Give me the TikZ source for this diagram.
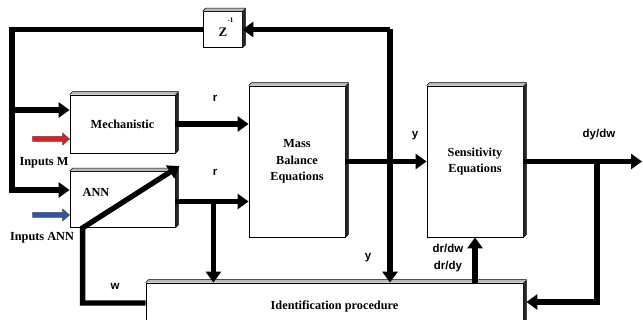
\documentclass[tikz,border=0pt]{standalone}
\usepackage{fontspec}
\setmainfont{Liberation Serif}
\newfontfamily\lsans{Liberation Sans}
\usetikzlibrary{arrows.meta,calc}
\definecolor{inred}{RGB}{225,30,30}
\definecolor{inblue}{RGB}{45,85,170}
\newcommand\depthbox[1]{%
  \fill[gray!55] (#1.north west) -- ++(3,-3) -- ($(#1.north east)+(3,-3)$) -- (#1.north east) -- cycle;
  \fill[gray!30!black] (#1.north east) -- ++(3,-3) -- ($(#1.south east)+(3,-3)$) -- (#1.south east) -- cycle;
  \draw[line width=0.6pt] (#1.north west) -- ++(3,-3) -- ($(#1.north east)+(3,-3)$) -- ($(#1.south east)+(3,-3)$) -- (#1.south east);
}
\begin{document}
\begin{tikzpicture}[x=1pt,y=-1pt,
  box/.style={draw,line width=0.8pt,fill=white,inner sep=0pt,align=center,
    font=\bfseries\fontsize{12.3}{16.5}\selectfont},
  conn/.style={line width=5.3pt,-{Triangle[length=11pt,width=15pt]}},
  lab/.style={font=\lsans\bfseries\fontsize{11.5}{14}\selectfont,inner sep=0pt},
  slab/.style={font=\bfseries\fontsize{12.3}{14}\selectfont,inner sep=0pt},
  inarrow/.style={line width=0.5pt,draw=black!70}]
\useasboundingbox (0,0) rectangle (643,320);

% boxes
\node[box,minimum width=39,minimum height=36] (zbox) at (222.5,29.5) {};
\node[box,minimum width=105,minimum height=58] (mech) at (122.5,124) {Mechanistic};
\node[box,minimum width=105,minimum height=56] (ann) at (122.5,199.5) {};
\node[box,minimum width=96,minimum height=151] (mass) at (297,161.5) {Mass\\Balance\\Equations};
\node[box,minimum width=96,minimum height=151] (sens) at (475,161.5) {Sensitivity\\Equations};
\node[box,minimum width=377,minimum height=47] (ident) at (334.5,306.5) {Identification procedure};
\foreach \b in {zbox,mech,ann,mass,sens,ident} {\depthbox{\b}}

\node[slab,font=\bfseries\fontsize{13}{14}\selectfont] (zl) at (223,32.5) {Z};
\node[slab,font=\bfseries\fontsize{7}{8}\selectfont] (zs) at (230.5,20.5) {-1};
\node[slab] (annl) at (96,192) {ANN};

% coordinates
\coordinate (ytop) at (390,29.5);
\coordinate (lft) at (12,29.5);
\coordinate (mechin) at ($(mech.west)+(0,-14)$);
\coordinate (mechred) at ($(mech.west)+(0,15)$);
\coordinate (annin) at ($(ann.west)+(0,-9.5)$);
\coordinate (annblue) at ($(ann.west)+(0,15.5)$);
\coordinate (annout) at ($(ann.east)+(0,2)$);
\coordinate (br1) at ($(annout)+(38,0)$);
\coordinate (dstart) at ($(ann.south west)+(13,0)$);
\coordinate (dtip) at ($(ann.north east)+(4,-5)$);
\coordinate (wend) at ($(ident.west)+(0,-3.5)$);
\coordinate (outend) at (642,161.5);
\coordinate (br2) at (597,161.5);
\coordinate (identin) at ($(ident.east)+(3,-4.5)$);

% feedback loop
\draw[conn] (ytop) -- (zbox.east);
\draw[conn] (ytop) -- (ytop |- ident.north);
\draw[conn] (zbox.west) -- (lft) |- (annin);
\draw[conn] (lft |- mechin) -- (mechin);

% coloured inputs
\filldraw[inarrow,fill=inred] ($(mechred)+(-37,-2.5)$) -- ++(30,0) -- ++(0,-3.5) -- (mechred) -- ++(-7,6) -- ++(0,-3.5) -- ++(-30,0) -- cycle;
\filldraw[inarrow,fill=inblue] ($(annblue)+(-37,-2.5)$) -- ++(30,0) -- ++(0,-3.5) -- (annblue) -- ++(-7,6) -- ++(0,-3.5) -- ++(-30,0) -- cycle;

% r lines
\draw[conn] (mech.east) -- (mech.east -| mass.west);
\draw[conn] (annout) -- (annout -| mass.west);
\draw[conn] (br1) -- (br1 |- ident.north);

% w / diagonal
\draw[conn,line join=miter] (wend) -| (dstart) -- (dtip);

% y
\draw[conn] (mass.east) -- (sens.west);

% dy/dw
\draw[conn] (sens.east) -- (outend);
\draw[conn] (br2) |- (identin);

% dr/dw dr/dy
\draw[conn] (sens.south |- ident.north) -- (sens.south);

% labels
\node[lab] (r1) at (215,98) {r};
\node[lab] (r2) at (215,172) {r};
\node[lab] (y1) at (415,136) {y};
\node[lab] (y2) at (368,258) {y};
\node[lab] (dydw) at (599,135) {dy/dw};
\node[lab] (wl) at (115,286) {w};
\node[lab] (drdw) at (448,248) {dr/dw};
\node[lab] (drdy) at (448,267) {dr/dy};
\node[slab] (inm) at (44,163) {Inputs M};
\node[slab] (inann) at (42,238) {Inputs ANN};
\end{tikzpicture}
\end{document}
